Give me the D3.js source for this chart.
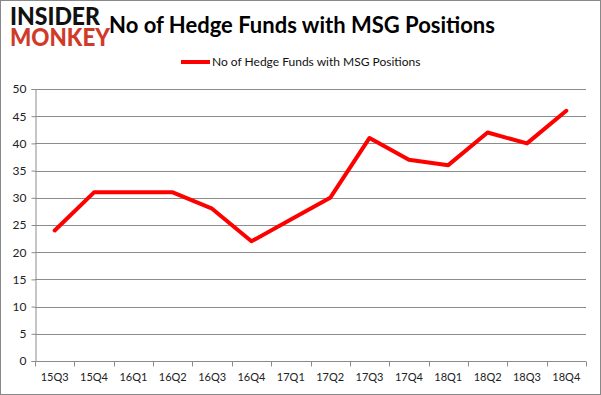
<!DOCTYPE html>
<html>
<head>
<meta charset="utf-8">
<script src="https://cdn.jsdelivr.net/npm/d3@7"></script>
<style>
  body { margin: 0; background: #fff; }
  text { font-family: Lato, "Open Sans", sans-serif; }
</style>
</head>
<body>
<div id="chart"></div>
<script>
// data
var quarters = ["15Q3","15Q4","16Q1","16Q2","16Q3","16Q4","17Q1","17Q2","17Q3","17Q4","18Q1","18Q2","18Q3","18Q4"]
var funds = [24, 31, 31, 31, 28, 22, 26, 30, 41, 37, 36, 42, 40, 46]
var yTicks = [0, 5, 10, 15, 20, 25, 30, 35, 40, 45, 50]
var seriesName = "No of Hedge Funds with MSG Positions"

var W = 601, H = 395
var margin = {top: 89, right: 15, bottom: 34, left: 35}
var width = W - margin.left - margin.right
var height = H - margin.top - margin.bottom

var svg = d3.select("#chart").append("svg")
    .attr("width", W)
    .attr("height", H)

// frame
svg.append("rect")
    .attr("x", 0.5).attr("y", 0.5)
    .attr("width", W - 1).attr("height", H - 1)
    .attr("fill", "#fff")
    .attr("stroke", "#888")

// title
svg.append("text")
    .attr("x", 302).attr("y", 33)
    .attr("text-anchor", "middle")
    .attr("font-size", 22)
    .attr("font-weight", "bold")
    .attr("fill", "#000")
    .text(seriesName)

// logo
svg.append("text")
    .attr("x", 10).attr("y", 25)
    .attr("font-size", 24).attr("font-weight", 900)
    .attr("textLength", 90).attr("lengthAdjust", "spacingAndGlyphs")
    .attr("fill", "#111")
    .text("INSIDER")
svg.append("text")
    .attr("x", 10).attr("y", 46)
    .attr("font-size", 24).attr("font-weight", 900)
    .attr("textLength", 100).attr("lengthAdjust", "spacingAndGlyphs")
    .attr("fill", "#d03a28")
    .text("MONKEY")

// legend
svg.append("line")
    .attr("x1", 181).attr("x2", 210)
    .attr("y1", 62).attr("y2", 62)
    .attr("stroke", "#ff0000").attr("stroke-width", 4)
svg.append("text")
    .attr("x", 212).attr("y", 66)
    .attr("font-size", 12)
    .attr("fill", "#111")
    .text(seriesName)

var g = svg.append("g")
    .attr("transform", "translate(" + margin.left + "," + margin.top + ")")

var x = d3.scaleBand()
    .domain(quarters)
    .range([0, width])

var y = d3.scaleLinear()
    .domain([0, 50])
    .range([height, 0])

// gridlines
g.selectAll(".grid")
    .data(yTicks)
  .enter().append("line")
    .attr("x1", 0).attr("x2", width)
    .attr("y1", function(d) { return Math.round(y(d)) + 0.5 })
    .attr("y2", function(d) { return Math.round(y(d)) + 0.5 })
    .attr("stroke", "#8c8c8c")

// y axis
var yAxis = g.append("g")
    .attr("transform", "translate(0.5,0)")
    .call(d3.axisLeft(y).tickValues(yTicks).tickSize(4).tickPadding(5))
yAxis.select(".domain").attr("stroke", "#8c8c8c")
yAxis.selectAll(".tick line").attr("stroke", "#8c8c8c")
yAxis.selectAll("text").attr("font-size", 12).attr("fill", "#222")
    .style("font-family", "Lato, 'Open Sans', sans-serif")

// x axis: ticks on the band edges
var xAxis = g.append("g")
    .attr("transform", "translate(0," + (Math.round(height) + 0.5) + ")")
xAxis.append("line")
    .attr("x1", 0).attr("x2", width)
    .attr("stroke", "#8c8c8c")
var edges = quarters.map(function(q) { return x(q) }).concat([width])
xAxis.selectAll(".xt")
    .data(edges)
  .enter().append("line")
    .attr("x1", function(d) { return Math.round(d) + 0.5 })
    .attr("x2", function(d) { return Math.round(d) + 0.5 })
    .attr("y1", 0).attr("y2", 5)
    .attr("stroke", "#8c8c8c")
xAxis.selectAll(".xl")
    .data(quarters)
  .enter().append("text")
    .attr("x", function(d) { return x(d) + x.bandwidth() / 2 })
    .attr("y", 19)
    .attr("text-anchor", "middle")
    .attr("font-size", 11)
    .attr("fill", "#222")
    .text(function(d) { return d })

// the line
var line = d3.line()
    .x(function(d, i) { return x(quarters[i]) + x.bandwidth() / 2 })
    .y(function(d) { return y(d) })

g.append("path")
    .datum(funds)
    .attr("d", line)
    .attr("fill", "none")
    .attr("stroke", "#ff0000")
    .attr("stroke-width", 4)
    .attr("stroke-linejoin", "round")
    .attr("stroke-linecap", "round")
</script>
</body>
</html>
